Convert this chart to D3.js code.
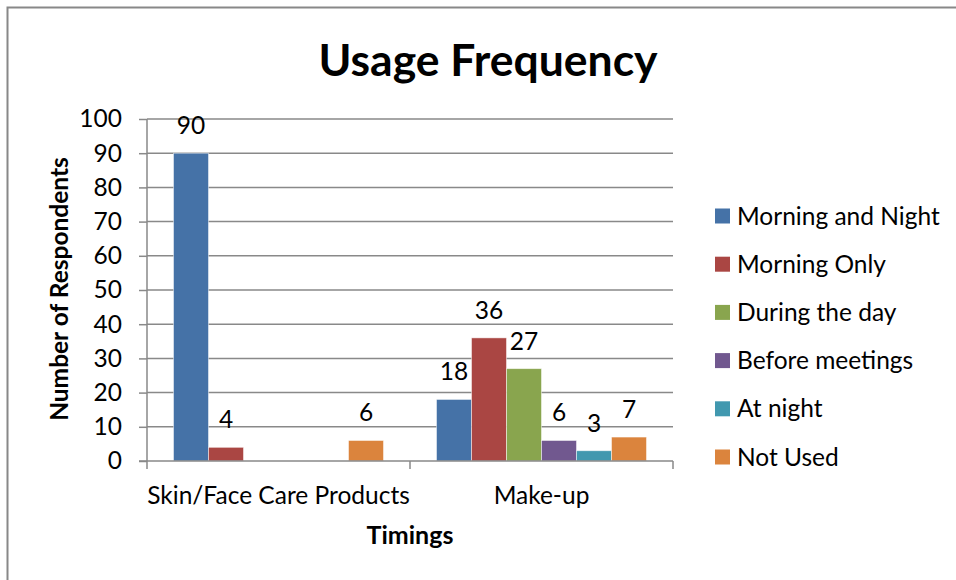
<!DOCTYPE html>
<html>
<head>
<meta charset="utf-8">
<script src="https://cdn.jsdelivr.net/npm/d3@7"></script>
<style>
  html, body { margin: 0; padding: 0; background: #fff; }
  svg { display: block; font-family: Lato, "Open Sans", sans-serif; }
</style>
</head>
<body>
<svg id="chart" width="956" height="580"></svg>
<script>
// Survey data: how often respondents use each product type
const categories = ["Skin/Face Care Products", "Make-up"];
const seriesNames = ["Morning and Night", "Morning Only", "During the day", "Before meetings", "At night", "Not Used"];
const seriesColors = ["#4572A7", "#AA4643", "#89A54E", "#71588F", "#4198AF", "#DB843D"];
const skinCareValues = [90, 4, 0, 0, 0, 6];
const makeUpValues = [18, 36, 27, 6, 3, 7];
const yTicks = [0, 10, 20, 30, 40, 50, 60, 70, 80, 90, 100];

const valuesByCategory = [skinCareValues, makeUpValues];

const svg = d3.select("#chart");
const W = 956, H = 580;
const labelSize = 24.5;

// Outer chart frame
svg.append("rect")
  .attr("x", 7.5).attr("y", 7.5)
  .attr("width", W + 20).attr("height", H + 20)
  .attr("fill", "#fff").attr("stroke", "#888").attr("stroke-width", 2);

const plot = { left: 147, right: 673, top: 119, bottom: 461 };

// Each category is 263 px wide, with the six bars filling 210 px of it
const x0 = d3.scaleBand().domain(categories)
  .range([plot.left, plot.right])
  .paddingInner(53 / 263).paddingOuter(26.5 / 263);
const x1 = d3.scaleBand().domain(seriesNames).range([0, x0.bandwidth()]);
const y = d3.scaleLinear().domain([0, 100]).range([plot.bottom, plot.top]);

const gridColor = "#898989";

// Horizontal gridlines
svg.append("g").selectAll("line").data(yTicks.filter(d => d > 0)).join("line")
  .attr("x1", plot.left).attr("x2", plot.right)
  .attr("y1", d => y(d)).attr("y2", d => y(d))
  .attr("stroke", gridColor).attr("stroke-width", 1.5);

// Bars
const groups = svg.append("g").selectAll("g")
  .data(categories.map((c, i) => ({ cat: c, vals: valuesByCategory[i] })))
  .join("g")
  .attr("transform", d => `translate(${x0(d.cat)},0)`);

groups.selectAll("rect")
  .data(d => d.vals.map((v, j) => ({ name: seriesNames[j], v, color: seriesColors[j] })))
  .join("rect")
  .attr("x", d => x1(d.name))
  .attr("width", x1.bandwidth())
  .attr("y", d => y(d.v))
  .attr("height", d => y(0) - y(d.v))
  .attr("fill", d => d.color)
  .attr("stroke", "rgba(255,255,255,0.6)")
  .attr("stroke-width", 0.8);

// Value labels (zero values are not labelled)
groups.selectAll("text")
  .data(d => d.vals.map((v, j) => ({ name: seriesNames[j], v })).filter(d => d.v > 0))
  .join("text")
  .attr("x", d => x1(d.name) + x1.bandwidth() / 2)
  .attr("y", d => y(d.v) - 19)
  .attr("text-anchor", "middle")
  .attr("font-size", labelSize)
  .attr("fill", "#000")
  .text(d => d.v);

// Y axis
const yAxis = svg.append("g")
  .attr("transform", `translate(${plot.left},0)`)
  .call(d3.axisLeft(y).tickValues(yTicks).tickSize(8).tickPadding(17));
yAxis.select(".domain").attr("stroke", gridColor).attr("stroke-width", 1.5)
  .attr("d", `M0,${plot.top}V${plot.bottom}`);
yAxis.selectAll(".tick line").attr("stroke", gridColor).attr("stroke-width", 1.5);
yAxis.selectAll(".tick text").attr("font-size", labelSize).attr("font-family", "Lato, sans-serif").attr("fill", "#000");

// X axis with boundary ticks between categories
const xAxisG = svg.append("g").attr("transform", `translate(0,${plot.bottom})`);
xAxisG.append("line")
  .attr("x1", plot.left - 8).attr("x2", plot.right)
  .attr("stroke", gridColor).attr("stroke-width", 1.5);
const boundaries = [plot.left, (plot.left + plot.right) / 2, plot.right];
xAxisG.selectAll("line.tk").data(boundaries).join("line").attr("class", "tk")
  .attr("x1", d => d).attr("x2", d => d).attr("y1", 0).attr("y2", 8)
  .attr("stroke", gridColor).attr("stroke-width", 1.5);
xAxisG.selectAll("text").data(categories).join("text")
  .attr("x", d => x0(d) + x0.bandwidth() / 2)
  .attr("y", 43)
  .attr("text-anchor", "middle")
  .attr("font-size", labelSize)
  .attr("fill", "#000")
  .text(d => d);

// Title and axis titles
svg.append("text")
  .attr("x", 488).attr("y", 76)
  .attr("text-anchor", "middle")
  .attr("font-size", 44.5).attr("font-weight", "bold")
  .text("Usage Frequency");

svg.append("text")
  .attr("x", 410).attr("y", 544)
  .attr("text-anchor", "middle")
  .attr("font-size", 25).attr("font-weight", "bold")
  .text("Timings");

svg.append("text")
  .attr("transform", `translate(68,289) rotate(-90)`)
  .attr("text-anchor", "middle")
  .attr("font-size", 24.5).attr("font-weight", "bold")
  .text("Number of Respondents");

// Legend
const legend = svg.append("g").selectAll("g").data(seriesNames).join("g")
  .attr("transform", (d, i) => `translate(715,${216 + i * 48.2})`);
legend.append("rect")
  .attr("x", 0).attr("y", -7.5).attr("width", 15).attr("height", 15)
  .attr("fill", (d, i) => seriesColors[i]);
legend.append("text")
  .attr("x", 22).attr("y", 8.5)
  .attr("font-size", labelSize)
  .attr("fill", "#000")
  .text(d => d);
</script>
</body>
</html>
